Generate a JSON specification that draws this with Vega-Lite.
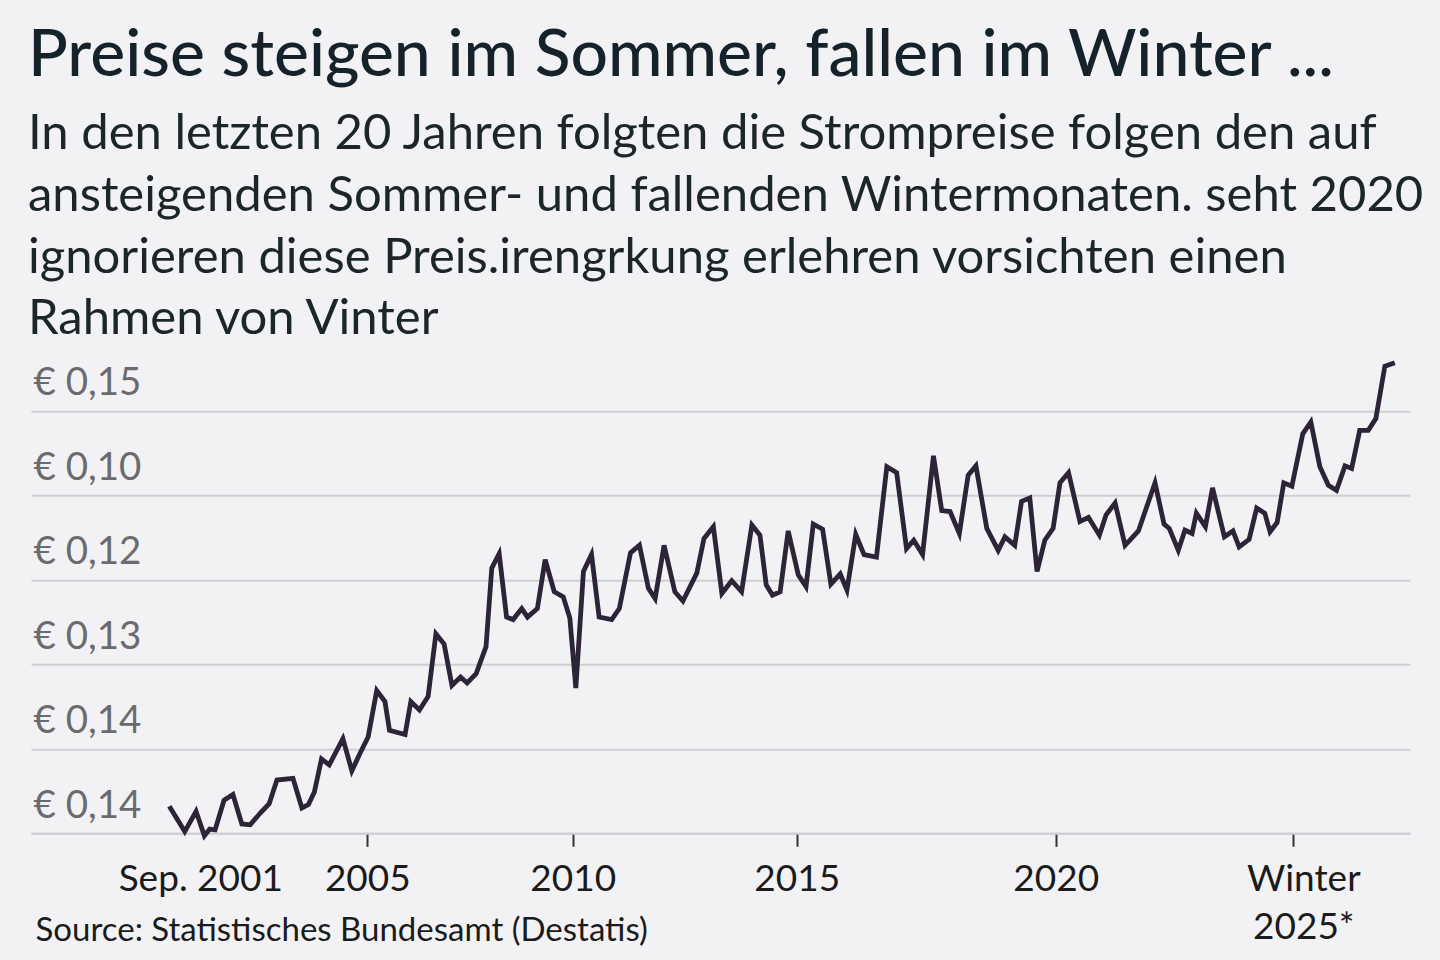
{
  "$schema": "https://vega.github.io/schema/vega-lite/v6.json",
  "autosize": {"type": "none"},
  "width": 1379,
  "height": 473,
  "padding": {"left": 31, "top": 360.3, "right": 30, "bottom": 126.7},
  "background": "#f2f2f4",
  "title": {
    "text": "Preise steigen im Sommer, fallen im Winter ...",
    "subtitle": [
      "In den letzten 20 Jahren folgten die Strompreise folgen den auf",
      "ansteigenden Sommer- und fallenden Wintermonaten. seht 2020",
      "ignorieren diese Preis.irengrkung erlehren vorsichten einen",
      "Rahmen von Vinter"
    ],
    "anchor": "start",
    "frame": "group",
    "dx": -3,
    "offset": 8,
    "font": "Lato",
    "fontSize": 66,
    "fontWeight": 500,
    "color": "#16222a",
    "subtitleFont": "Lato",
    "subtitleFontSize": 49,
    "subtitleColor": "#1c2628",
    "subtitleLineHeight": 61.7,
    "subtitlePadding": 20
  },
  "config": {"view": {"stroke": null}},
  "data": {
    "values": [
      {"jahr": 2001.67, "preis": 0.1032},
      {"jahr": 2001.93, "preis": 0.1002},
      {"jahr": 2002.12, "preis": 0.1026},
      {"jahr": 2002.26, "preis": 0.0997},
      {"jahr": 2002.35, "preis": 0.1005},
      {"jahr": 2002.44, "preis": 0.1004},
      {"jahr": 2002.59, "preis": 0.1039},
      {"jahr": 2002.74, "preis": 0.1046},
      {"jahr": 2002.89, "preis": 0.1011},
      {"jahr": 2003.03, "preis": 0.1010},
      {"jahr": 2003.20, "preis": 0.1024},
      {"jahr": 2003.35, "preis": 0.1035},
      {"jahr": 2003.48, "preis": 0.1063},
      {"jahr": 2003.75, "preis": 0.1065},
      {"jahr": 2003.90, "preis": 0.1030},
      {"jahr": 2004.01, "preis": 0.1034},
      {"jahr": 2004.11, "preis": 0.1049},
      {"jahr": 2004.23, "preis": 0.1088},
      {"jahr": 2004.36, "preis": 0.1081},
      {"jahr": 2004.59, "preis": 0.1112},
      {"jahr": 2004.74, "preis": 0.1074},
      {"jahr": 2004.88, "preis": 0.1095},
      {"jahr": 2005.02, "preis": 0.1114},
      {"jahr": 2005.23, "preis": 0.1169},
      {"jahr": 2005.43, "preis": 0.1156},
      {"jahr": 2005.54, "preis": 0.1122},
      {"jahr": 2005.92, "preis": 0.1117},
      {"jahr": 2006.06, "preis": 0.1156},
      {"jahr": 2006.27, "preis": 0.1146},
      {"jahr": 2006.48, "preis": 0.1162},
      {"jahr": 2006.67, "preis": 0.1236},
      {"jahr": 2006.87, "preis": 0.1224},
      {"jahr": 2007.06, "preis": 0.1175},
      {"jahr": 2007.27, "preis": 0.1185},
      {"jahr": 2007.43, "preis": 0.1178},
      {"jahr": 2007.65, "preis": 0.1189},
      {"jahr": 2007.89, "preis": 0.1221},
      {"jahr": 2008.03, "preis": 0.1314},
      {"jahr": 2008.21, "preis": 0.1331},
      {"jahr": 2008.39, "preis": 0.1256},
      {"jahr": 2008.55, "preis": 0.1253},
      {"jahr": 2008.76, "preis": 0.1266},
      {"jahr": 2008.90, "preis": 0.1256},
      {"jahr": 2009.14, "preis": 0.1266},
      {"jahr": 2009.33, "preis": 0.1324},
      {"jahr": 2009.55, "preis": 0.1286},
      {"jahr": 2009.77, "preis": 0.1280},
      {"jahr": 2009.93, "preis": 0.1255},
      {"jahr": 2010.07, "preis": 0.1172},
      {"jahr": 2010.24, "preis": 0.1310},
      {"jahr": 2010.42, "preis": 0.1330},
      {"jahr": 2010.59, "preis": 0.1256},
      {"jahr": 2010.87, "preis": 0.1253},
      {"jahr": 2011.04, "preis": 0.1266},
      {"jahr": 2011.29, "preis": 0.1332},
      {"jahr": 2011.49, "preis": 0.1341},
      {"jahr": 2011.69, "preis": 0.1290},
      {"jahr": 2011.84, "preis": 0.1278},
      {"jahr": 2012.04, "preis": 0.1341},
      {"jahr": 2012.28, "preis": 0.1286},
      {"jahr": 2012.46, "preis": 0.1275},
      {"jahr": 2012.77, "preis": 0.1308},
      {"jahr": 2012.93, "preis": 0.1349},
      {"jahr": 2013.14, "preis": 0.1363},
      {"jahr": 2013.33, "preis": 0.1284},
      {"jahr": 2013.55, "preis": 0.1299},
      {"jahr": 2013.77, "preis": 0.1286},
      {"jahr": 2014.00, "preis": 0.1365},
      {"jahr": 2014.18, "preis": 0.1353},
      {"jahr": 2014.32, "preis": 0.1294},
      {"jahr": 2014.46, "preis": 0.1282},
      {"jahr": 2014.63, "preis": 0.1286},
      {"jahr": 2014.81, "preis": 0.1358},
      {"jahr": 2015.03, "preis": 0.1306},
      {"jahr": 2015.18, "preis": 0.1292},
      {"jahr": 2015.32, "preis": 0.1366},
      {"jahr": 2015.50, "preis": 0.1360},
      {"jahr": 2015.66, "preis": 0.1295},
      {"jahr": 2015.84, "preis": 0.1307},
      {"jahr": 2015.97, "preis": 0.1288},
      {"jahr": 2016.14, "preis": 0.1354},
      {"jahr": 2016.30, "preis": 0.1330},
      {"jahr": 2016.54, "preis": 0.1327},
      {"jahr": 2016.74, "preis": 0.1434},
      {"jahr": 2016.93, "preis": 0.1427},
      {"jahr": 2017.12, "preis": 0.1337},
      {"jahr": 2017.26, "preis": 0.1347},
      {"jahr": 2017.43, "preis": 0.1330},
      {"jahr": 2017.64, "preis": 0.1447},
      {"jahr": 2017.80, "preis": 0.1382},
      {"jahr": 2017.96, "preis": 0.1381},
      {"jahr": 2018.14, "preis": 0.1355},
      {"jahr": 2018.31, "preis": 0.1424},
      {"jahr": 2018.46, "preis": 0.1435},
      {"jahr": 2018.67, "preis": 0.1361},
      {"jahr": 2018.89, "preis": 0.1335},
      {"jahr": 2019.02, "preis": 0.1351},
      {"jahr": 2019.21, "preis": 0.1341},
      {"jahr": 2019.34, "preis": 0.1393},
      {"jahr": 2019.50, "preis": 0.1397},
      {"jahr": 2019.64, "preis": 0.1310},
      {"jahr": 2019.79, "preis": 0.1347},
      {"jahr": 2019.95, "preis": 0.1361},
      {"jahr": 2020.09, "preis": 0.1415},
      {"jahr": 2020.27, "preis": 0.1427},
      {"jahr": 2020.51, "preis": 0.1369},
      {"jahr": 2020.69, "preis": 0.1374},
      {"jahr": 2020.92, "preis": 0.1353},
      {"jahr": 2021.06, "preis": 0.1377},
      {"jahr": 2021.25, "preis": 0.1391},
      {"jahr": 2021.46, "preis": 0.1341},
      {"jahr": 2021.74, "preis": 0.1358},
      {"jahr": 2022.09, "preis": 0.1415},
      {"jahr": 2022.28, "preis": 0.1366},
      {"jahr": 2022.39, "preis": 0.1361},
      {"jahr": 2022.58, "preis": 0.1335},
      {"jahr": 2022.72, "preis": 0.1359},
      {"jahr": 2022.87, "preis": 0.1355},
      {"jahr": 2022.96, "preis": 0.1379},
      {"jahr": 2023.15, "preis": 0.1363},
      {"jahr": 2023.30, "preis": 0.1409},
      {"jahr": 2023.55, "preis": 0.1351},
      {"jahr": 2023.73, "preis": 0.1358},
      {"jahr": 2023.86, "preis": 0.1339},
      {"jahr": 2024.07, "preis": 0.1348},
      {"jahr": 2024.23, "preis": 0.1385},
      {"jahr": 2024.40, "preis": 0.1379},
      {"jahr": 2024.51, "preis": 0.1357},
      {"jahr": 2024.66, "preis": 0.1368},
      {"jahr": 2024.80, "preis": 0.1415},
      {"jahr": 2024.97, "preis": 0.1411},
      {"jahr": 2025.20, "preis": 0.1473},
      {"jahr": 2025.37, "preis": 0.1487},
      {"jahr": 2025.56, "preis": 0.1434},
      {"jahr": 2025.74, "preis": 0.1412},
      {"jahr": 2025.91, "preis": 0.1406},
      {"jahr": 2026.09, "preis": 0.1435},
      {"jahr": 2026.23, "preis": 0.1432},
      {"jahr": 2026.40, "preis": 0.1477},
      {"jahr": 2026.58, "preis": 0.1477},
      {"jahr": 2026.74, "preis": 0.1491},
      {"jahr": 2026.93, "preis": 0.1553},
      {"jahr": 2027.14, "preis": 0.1557}
    ]
  },
  "mark": {"type": "line", "color": "#2e2438", "strokeWidth": 4.8, "clip": false},
  "encoding": {
    "x": {
      "field": "jahr",
      "type": "quantitative",
      "scale": {
        "domain": [1999.34, 2001.67, 2005, 2010, 2015, 2020, 2025, 2027.46],
        "range": [0, 138.3, 336.3, 541.7, 765.7, 1024.7, 1262.3, 1379],
        "zero": false,
        "nice": false
      },
      "axis": {
        "values": [2001.67, 2005, 2010, 2015, 2020, 2025],
        "labelExpr": "datum.value < 2002 ? 'Sep. 2001' : (datum.value > 2024 ? ['Winter', '2025*'] : format(datum.value, 'd'))",
        "labelFont": "Lato",
        "labelFontSize": 37,
        "labelColor": "#1b1b1b",
        "labelBaseline": "alphabetic",
        "labelPadding": 44,
        "labelLineHeight": 48,
        "labelFlush": false,
        "labelOverlap": false,
        "labelBound": false,
        "labelOffset": {"condition": [{"test": "datum.value < 2002", "value": 31}, {"test": "datum.value > 2024", "value": 10}], "value": 0},
        "tickSize": 13,
        "tickWidth": 2,
        "tickColor": "#333333",
        "tickOpacity": {"condition": {"test": "datum.value < 2002", "value": 0}, "value": 1},
        "domainColor": "#cfcfd3",
        "domainWidth": 2,
        "grid": false,
        "title": "Source: Statistisches Bundesamt (Destatis)",
        "titleAnchor": "start",
        "titleAlign": "left",
        "titleBaseline": "alphabetic",
        "titleX": 4,
        "titleY": 106.7,
        "titleFont": "Lato",
        "titleFontSize": 33,
        "titleFontWeight": "normal",
        "titleColor": "#1b1b1b"
      }
    },
    "y": {
      "field": "preis",
      "type": "quantitative",
      "scale": {"domain": [0.10, 0.156], "zero": false, "nice": false},
      "axis": {
        "values": [0.10, 0.11, 0.12, 0.13, 0.14, 0.15],
        "labelExpr": "datum.value < 0.105 ? '€ 0,14' : (datum.value < 0.115 ? '€ 0,14' : (datum.value < 0.125 ? '€ 0,13' : (datum.value < 0.135 ? '€ 0,12' : (datum.value < 0.145 ? '€ 0,10' : '€ 0,15'))))",
        "grid": true,
        "gridColor": "#cfcfd3",
        "gridWidth": 2,
        "domain": false,
        "ticks": false,
        "labelAlign": "left",
        "labelBaseline": "alphabetic",
        "labelPadding": -2,
        "labelOffset": -16,
        "labelFont": "Lato",
        "labelFontSize": 38.5,
        "labelColor": "#6b6b6e",
        "labelFlush": false,
        "labelOverlap": false,
        "labelBound": false,
        "title": null
      }
    }
  }
}
